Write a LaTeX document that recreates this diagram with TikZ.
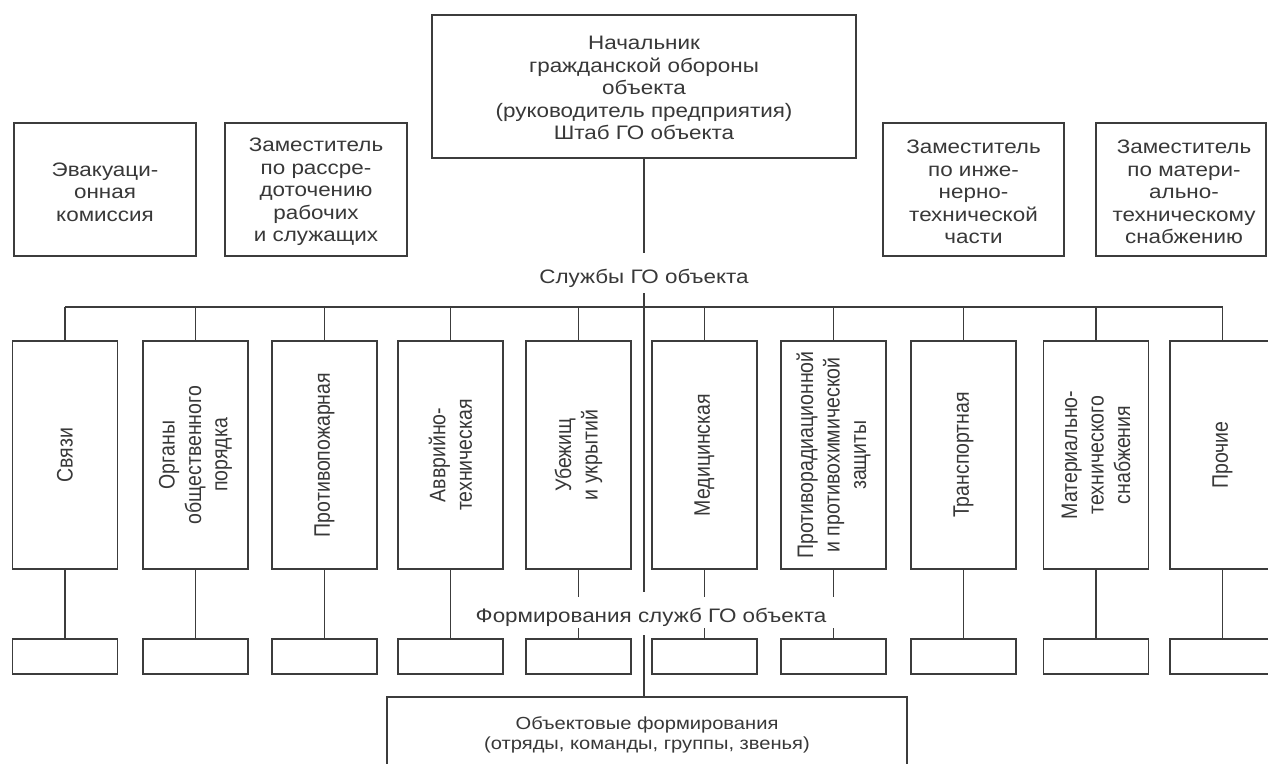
\documentclass[tikz,border=0pt]{standalone}
\usepackage{fontspec}
\setmainfont{Liberation Sans}
\newfontfamily\hfont[FakeStretch=1.15]{Liberation Sans}
\newfontfamily\vfont{Liberation Sans}
\definecolor{ln}{HTML}{3C3C3C}
\definecolor{tx}{HTML}{383838}
\tikzset{
  box/.style={draw=ln, line width=1.7pt, inner sep=0pt},
  svcbox/.style={box, minimum width=105pt, minimum height=228pt},
  smallbox/.style={box, minimum width=105pt, minimum height=35pt},
  htxt/.style={text=tx, align=center, inner sep=0pt, font=\hfont\fontsize{19.5}{22.5}\selectfont},
  smtxt/.style={text=tx, align=center, inner sep=0pt, font=\hfont\fontsize{17.5}{20}\selectfont},
  vtxt/.style={text=tx, align=center, inner sep=0pt, font=\vfont\fontsize{19.5}{23}\selectfont, rotate=90, yscale=1.15},
  lbl/.style={text=tx, inner sep=0pt, font=\hfont\fontsize{19.5}{22.5}\selectfont},
  conn/.style={draw=ln, line width=1.7pt},
}
\begin{document}
\begin{tikzpicture}[x=1pt, y=-1pt]
\useasboundingbox (0,0) rectangle (1268,763);
\fill[white] (0,0) rectangle (1268,763);
\clip (0,0) rectangle (1268,763);

% top level
\node[box, minimum width=424pt, minimum height=143pt] (chief) at (644,86.5) {};
\node[htxt] (chieft) at (644,88) {Начальник\\гражданской обороны\\объекта\\(руководитель предприятия)\\Штаб ГО объекта};

\node[box, minimum width=182pt, minimum height=133pt] (evac) at (105,189.5) {};
\node[htxt] (evact) at (105,192) {Эвакуаци-\\онная\\комиссия};
\node[box, minimum width=182pt, minimum height=133pt] (disp) at (316,189.5) {};
\node[htxt] (dispt) at (316,192) {Заместитель\\по рассре-\\доточению\\рабочих\\и служащих};
\node[box, minimum width=181pt, minimum height=133pt] (eng) at (973.5,189.5) {};
\node[htxt] (engt) at (973.5,192) {Заместитель\\по инже-\\нерно-\\технической\\части};
\node[box, minimum width=170pt, minimum height=133pt] (mat) at (1181,189.5) {};
\node[htxt] (matt) at (1184,192) {Заместитель\\по матери-\\ально-\\техническому\\снабжению};

% labels
\node[lbl, anchor=base, text height=30pt, text depth=10pt] (svclbl) at (644,283) {Службы ГО объекта};
\node[lbl, anchor=base, text height=30pt, text depth=13pt] (formlbl) at (651,622) {Формирования служб ГО объекта};

% services
\node[svcbox] (s1) at (65,455) {};
\node[svcbox] (s2) at (195.5,455) {};
\node[svcbox] (s3) at (324.5,455) {};
\node[svcbox] (s4) at (450.5,455) {};
\node[svcbox] (s5) at (578.5,455) {};
\node[svcbox] (s6) at (704.5,455) {};
\node[svcbox] (s7) at (833.5,455) {};
\node[svcbox] (s8) at (963.5,455) {};
\node[svcbox] (s9) at (1096,455) {};
\node[svcbox] (s10) at (1222.5,455) {};

\node[vtxt] at (s1) {Связи};
\node[vtxt] at (s2) {Органы\\общественного\\порядка};
\node[vtxt] at (s3) {Противопожарная};
\node[vtxt] at (s4) {Авврийно-\\техническая};
\node[vtxt] at (s5) {Убежищ\\и укрытий};
\node[vtxt] at (s6) {Медицинская};
\node[vtxt] at (s7) {Противорадиационной\\и противохимической\\защиты};
\node[vtxt] at (s8) {Транспортная};
\node[vtxt] at (s9) {Материально-\\технического\\снабжения};
\node[vtxt] at (s10) {Прочие};

% formations
\node[smallbox] (f1) at (65,656.5) {};
\node[smallbox] (f2) at (195.5,656.5) {};
\node[smallbox] (f3) at (324.5,656.5) {};
\node[smallbox] (f4) at (450.5,656.5) {};
\node[smallbox] (f5) at (578.5,656.5) {};
\node[smallbox] (f6) at (704.5,656.5) {};
\node[smallbox] (f7) at (833.5,656.5) {};
\node[smallbox] (f8) at (963.5,656.5) {};
\node[smallbox] (f9) at (1096,656.5) {};
\node[smallbox] (f10) at (1222.5,656.5) {};

% object formations
\node[box, minimum width=520pt, minimum height=90pt] (obj) at (647,742) {};
\node[smtxt] (objt) at (647,735) {Объектовые формирования\\(отряды, команды, группы, звенья)};

% coordinates
\coordinate (bus) at (0,307);
\coordinate (gapT) at (0,597);
\coordinate (gapB) at (0,628);

% central spine
\draw[conn] (chief.south) -- (chief.south |- svclbl.north);
\draw[conn] (chief.south |- svclbl.south) -- (chief.south |- formlbl.north);
\draw[conn] (chief.south |- formlbl.south) -- (chief.south |- obj.north);

% bus
\draw[conn] (s1.north |- bus) -- (s10.north |- bus);
\foreach \i in {1,...,10} {
  \draw[conn] (s\i.north) -- (s\i.north |- bus);
}
% lower ties
\foreach \i in {1,2,3,4,8,9,10} {
  \draw[conn] (s\i.south) -- (f\i.north);
}
\foreach \i in {5,6,7} {
  \draw[conn] (s\i.south) -- (s\i.south |- gapT);
  \draw[conn] (f\i.north) -- (f\i.north |- gapB);
}
\end{tikzpicture}
\end{document}
